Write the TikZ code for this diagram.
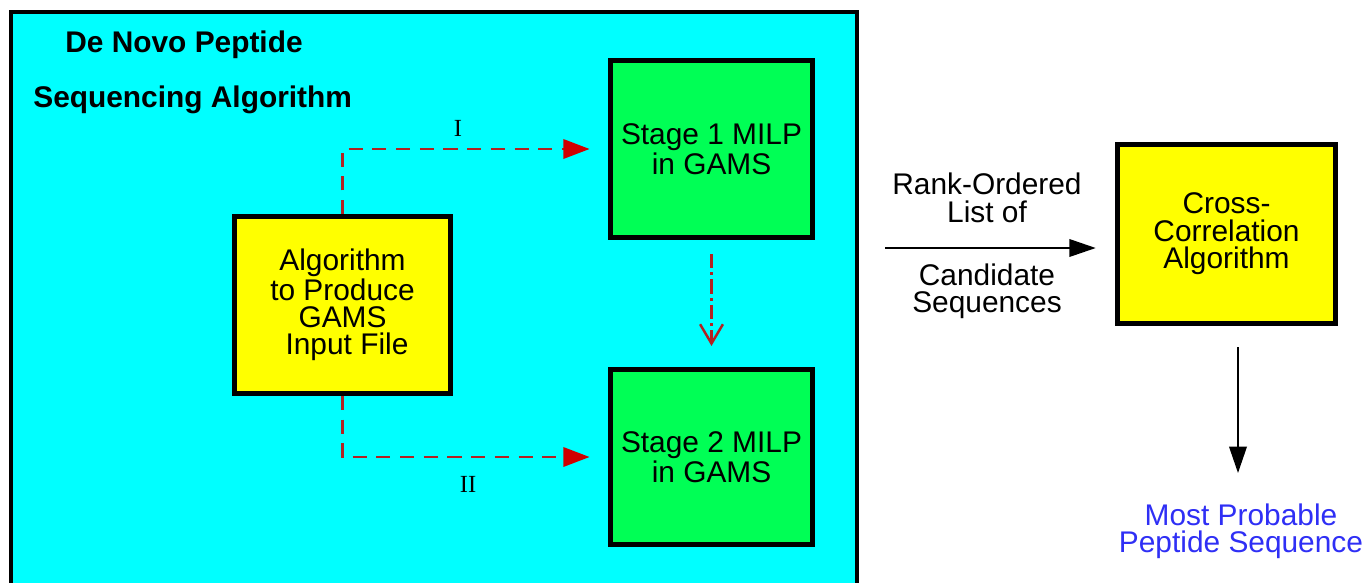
\documentclass[tikz,border=0pt]{standalone}
\usepackage{fontspec}
\setmainfont{Liberation Sans}
\newfontfamily\numfont{Liberation Serif}
\usepackage{xcolor}
\usetikzlibrary{arrows.meta,calc,positioning}
\definecolor{panelcyan}{HTML}{00FFFF}
\definecolor{stagegreen}{HTML}{00FF55}
\definecolor{algoyellow}{HTML}{FFFF00}
\definecolor{flowred}{HTML}{B22222}
\definecolor{tipred}{HTML}{D00000}
\definecolor{resultblue}{HTML}{2F2FF5}
\tikzset{
  boxnode/.style={draw=black,line width=2.8pt,align=center,inner sep=2pt,font=\fontsize{17}{15.6}\selectfont},
  algobox/.style={boxnode,fill=algoyellow,minimum width=4.32cm,minimum height=3.54cm},
  stagebox/.style={boxnode,fill=stagegreen,minimum width=4.04cm,minimum height=3.54cm},
  flowarrow/.style={flowred,line width=1.5pt,dash pattern=on 8pt off 5.5pt,-{Triangle[length=15pt,width=11pt,color=tipred]}},
  passarrow/.style={flowred,line width=1.4pt,dash pattern=on 8pt off 2.5pt on 1.5pt off 2.5pt,-{Straight Barb[length=11pt,width=13pt]}},
  mainarrow/.style={-{Triangle[length=15pt,width=10pt]},line width=1pt},
  textnode/.style={align=center,font=\fontsize{17}{15.6}\selectfont,inner sep=0pt},
  titlenode/.style={anchor=west,inner sep=0pt,font=\bfseries\fontsize{17}{17}\selectfont},
  numnode/.style={inner sep=0pt,font=\numfont\fontsize{14}{14}\selectfont}
}
\begin{document}
\begin{tikzpicture}[x=0.02cm,y=-0.02cm]
\clip (0,0) rectangle (1367,582);
\draw[line width=2.8pt,fill=panelcyan] (11,12) rectangle (857,640);
\node[titlenode] (title1) at (65,45) {De Novo Peptide};
\node[titlenode] (title2) at (33,100) {Sequencing Algorithm};
\node[algobox] (algo) at (342.5,305) {Algorithm\\to Produce\\GAMS\hspace{0.5em}\\\hspace{0.3em}Input File};
\node[stagebox] (stage1) at (711.5,149) {Stage 1 MILP\\in GAMS};
\node[stagebox,minimum height=3.5cm] (stage2) at (711.5,457) {Stage 2 MILP\\in GAMS};
\node[algobox,minimum width=4.36cm,minimum height=3.58cm] (cross) at (1226.5,234) {Cross-\\Correlation\\Algorithm};
\node[textnode,text=resultblue] (result) at (1241,531) {Most Probable\\Peptide Sequence};
\draw[flowarrow,shorten >=10.5pt] (algo.north) |- (stage1.west);
\draw[flowarrow,shorten >=10.5pt] (algo.south) |- (stage2.west);
\node[numnode] (labI) at (458,128) {I};
\node[numnode] (labII) at (468,484) {II};
\draw[passarrow,shorten <=8pt,shorten >=12pt] (stage1.south) -- (stage2.north);
\coordinate (listtail) at (885,248);
\draw[mainarrow,shorten >=11pt] (listtail) -- (listtail -| cross.west);
\node[textnode] (listtop) at (987,198) {Rank-Ordered\\List of};
\node[textnode] (listbottom) at (987,291) {Candidate\\Sequences};
\coordinate (resulthead) at (1238,473);
\draw[mainarrow,shorten <=12pt] (resulthead |- cross.south) -- (resulthead);
\end{tikzpicture}
\end{document}
